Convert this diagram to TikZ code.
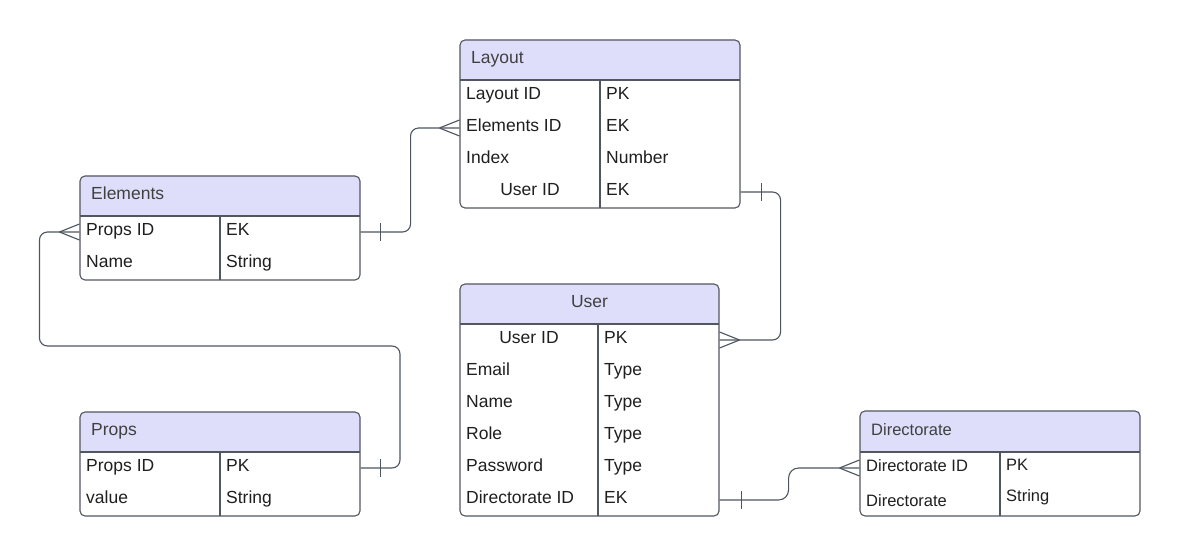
\documentclass[tikz,border=0pt]{standalone}
\usepackage{fontspec}
\setmainfont{Liberation Sans}
\definecolor{hdrfill}{RGB}{222,222,250}
\definecolor{edge}{RGB}{82,86,94}
\definecolor{relline}{RGB}{78,84,96}
\begin{document}
\begin{tikzpicture}[x=1pt, y=-1pt,
	frame/.style={draw=edge, line width=1.1pt, rounded corners=5pt, inner sep=0pt},
	cell/.style={anchor=west, inner sep=0pt, minimum height=32pt, text height=11pt, text depth=4pt,
		font=\fontsize{17.5}{20}\selectfont, text=black!88},
	head/.style={cell, text=black!75},
	rel/.style={draw=relline, line width=1.1pt},
	]
	\useasboundingbox (0,0) rectangle (1181,556);

	% Layout
	\fill[hdrfill, rounded corners=5pt] (460,40) rectangle (740,80);
	\fill[hdrfill] (460,62) rectangle (740,80);
	\node[frame, minimum width=280pt, minimum height=168pt] (layout) at (600,124) {};
	\draw[edge, line width=1.1pt] (460,80) -- (740,80) (600,80) -- (600,208);
	\node[head] (layouthead) at (471,60) {Layout};
	\node[cell] (lyid) at (466,96) {Layout ID};
	\node[cell] (lyelem) at (466,128) {Elements ID};
	\node[cell] (lyidx) at (466,160) {Index};
	\node[cell, anchor=center] (lyuser) at (530,192) {User ID};
	\node[cell] (lyidt) at (606,96) {PK};
	\node[cell] (lyelemt) at (606,128) {EK};
	\node[cell] (lyidxt) at (606,160) {Number};
	\node[cell] (lyusert) at (606,192) {EK};

	% Elements
	\fill[hdrfill, rounded corners=5pt] (80,176) rectangle (360,216);
	\fill[hdrfill] (80,198) rectangle (360,216);
	\node[frame, minimum width=280pt, minimum height=104pt] (elements) at (220,228) {};
	\draw[edge, line width=1.1pt] (80,216) -- (360,216) (220,216) -- (220,280);
	\node[head] (elementshead) at (91,196) {Elements};
	\node[cell] (elprops) at (86,232) {Props ID};
	\node[cell] (elname) at (86,264) {Name};
	\node[cell] (elpropst) at (226,232) {EK};
	\node[cell] (elnamet) at (226,264) {String};

	% Props
	\fill[hdrfill, rounded corners=5pt] (80,412) rectangle (360,452);
	\fill[hdrfill] (80,434) rectangle (360,452);
	\node[frame, minimum width=280pt, minimum height=104pt] (props) at (220,464) {};
	\draw[edge, line width=1.1pt] (80,452) -- (360,452) (220,452) -- (220,516);
	\node[head] (propshead) at (91,432) {Props};
	\node[cell] (prid) at (86,468) {Props ID};
	\node[cell] (prval) at (86,500) {value};
	\node[cell] (pridt) at (226,468) {PK};
	\node[cell] (prvalt) at (226,500) {String};

	% User
	\fill[hdrfill, rounded corners=5pt] (460,284) rectangle (719,324);
	\fill[hdrfill] (460,306) rectangle (719,324);
	\node[frame, minimum width=259pt, minimum height=232pt] (user) at (589.5,400) {};
	\draw[edge, line width=1.1pt] (460,324) -- (719,324) (598,324) -- (598,516);
	\node[head, anchor=center] (userhead) at (589.5,304) {User};
	\node[cell, anchor=center] (usid) at (529,340) {User ID};
	\node[cell] (usmail) at (466,372) {Email};
	\node[cell] (usname) at (466,404) {Name};
	\node[cell] (usrole) at (466,436) {Role};
	\node[cell] (uspass) at (466,468) {Password};
	\node[cell] (usdir) at (466,500) {Directorate ID};
	\node[cell] (usidt) at (604,340) {PK};
	\node[cell] (usmailt) at (604,372) {Type};
	\node[cell] (usnamet) at (604,404) {Type};
	\node[cell] (usrolet) at (604,436) {Type};
	\node[cell] (uspasst) at (604,468) {Type};
	\node[cell] (usdirt) at (604,500) {EK};

	% Directorate
	\fill[hdrfill, rounded corners=5pt] (860,411) rectangle (1140,452);
	\fill[hdrfill] (860,433) rectangle (1140,452);
	\node[frame, minimum width=280pt, minimum height=105pt] (direct) at (1000,463.5) {};
	\draw[edge, line width=1.1pt] (860,452) -- (1140,452) (1000,452) -- (1000,516);
	\node[head, font=\fontsize{16.5}{20}\selectfont] (directhead) at (871,432) {Directorate};
	\node[cell, font=\fontsize{16.5}{20}\selectfont] (drid) at (866,468) {Directorate ID};
	\node[cell, font=\fontsize{16.5}{20}\selectfont, yshift=-3pt] (drname) at (866,500) {Directorate};
	\node[cell, font=\fontsize{16.5}{20}\selectfont] (dridt) at (1006,467) {PK};
	\node[cell, font=\fontsize{16.5}{20}\selectfont] (drnamet) at (1006,498) {String};

	% Elements -- Layout
	\draw[rel, rounded corners=8pt] (elements.east |- elprops) -- ++(50,0) |- (layout.west |- lyelem);
	\draw[rel] (elements.east |- elprops) ++(20,-9) -- ++(0,18);
	\draw[rel] (layout.west |- lyelem) ++(-20,0) -- ++(20,-8) ++(-20,8) -- ++(20,8);

	% Layout -- User
	\draw[rel, rounded corners=8pt] (layout.east |- lyuser) -- ++(40,0) |- (user.east |- usid);
	\draw[rel] (layout.east |- lyuser) ++(21,-9) -- ++(0,18);
	\draw[rel] (user.east |- usid) ++(20,0) -- ++(-20,-8) ++(20,8) -- ++(-20,8);

	% Elements -- Props
	\coordinate (loop) at (400,346);
	\draw[rel, rounded corners=8pt] (elements.west |- elprops) -- ++(-40,0) |- (loop) |- (props.east |- prid);
	\draw[rel] (elements.west |- elprops) ++(-20,0) -- ++(20,-8) ++(-20,8) -- ++(20,8);
	\draw[rel] (props.east |- prid) ++(20,-9) -- ++(0,18);

	% User -- Directorate
	\draw[rel, rounded corners=10pt] (user.east |- usdir) -- ++(69,0) |- (direct.west |- drid);
	\draw[rel] (user.east |- usdir) ++(22,-9) -- ++(0,18);
	\draw[rel] (direct.west |- drid) ++(-20,0) -- ++(20,-8) ++(-20,8) -- ++(20,8);
\end{tikzpicture}
\end{document}
